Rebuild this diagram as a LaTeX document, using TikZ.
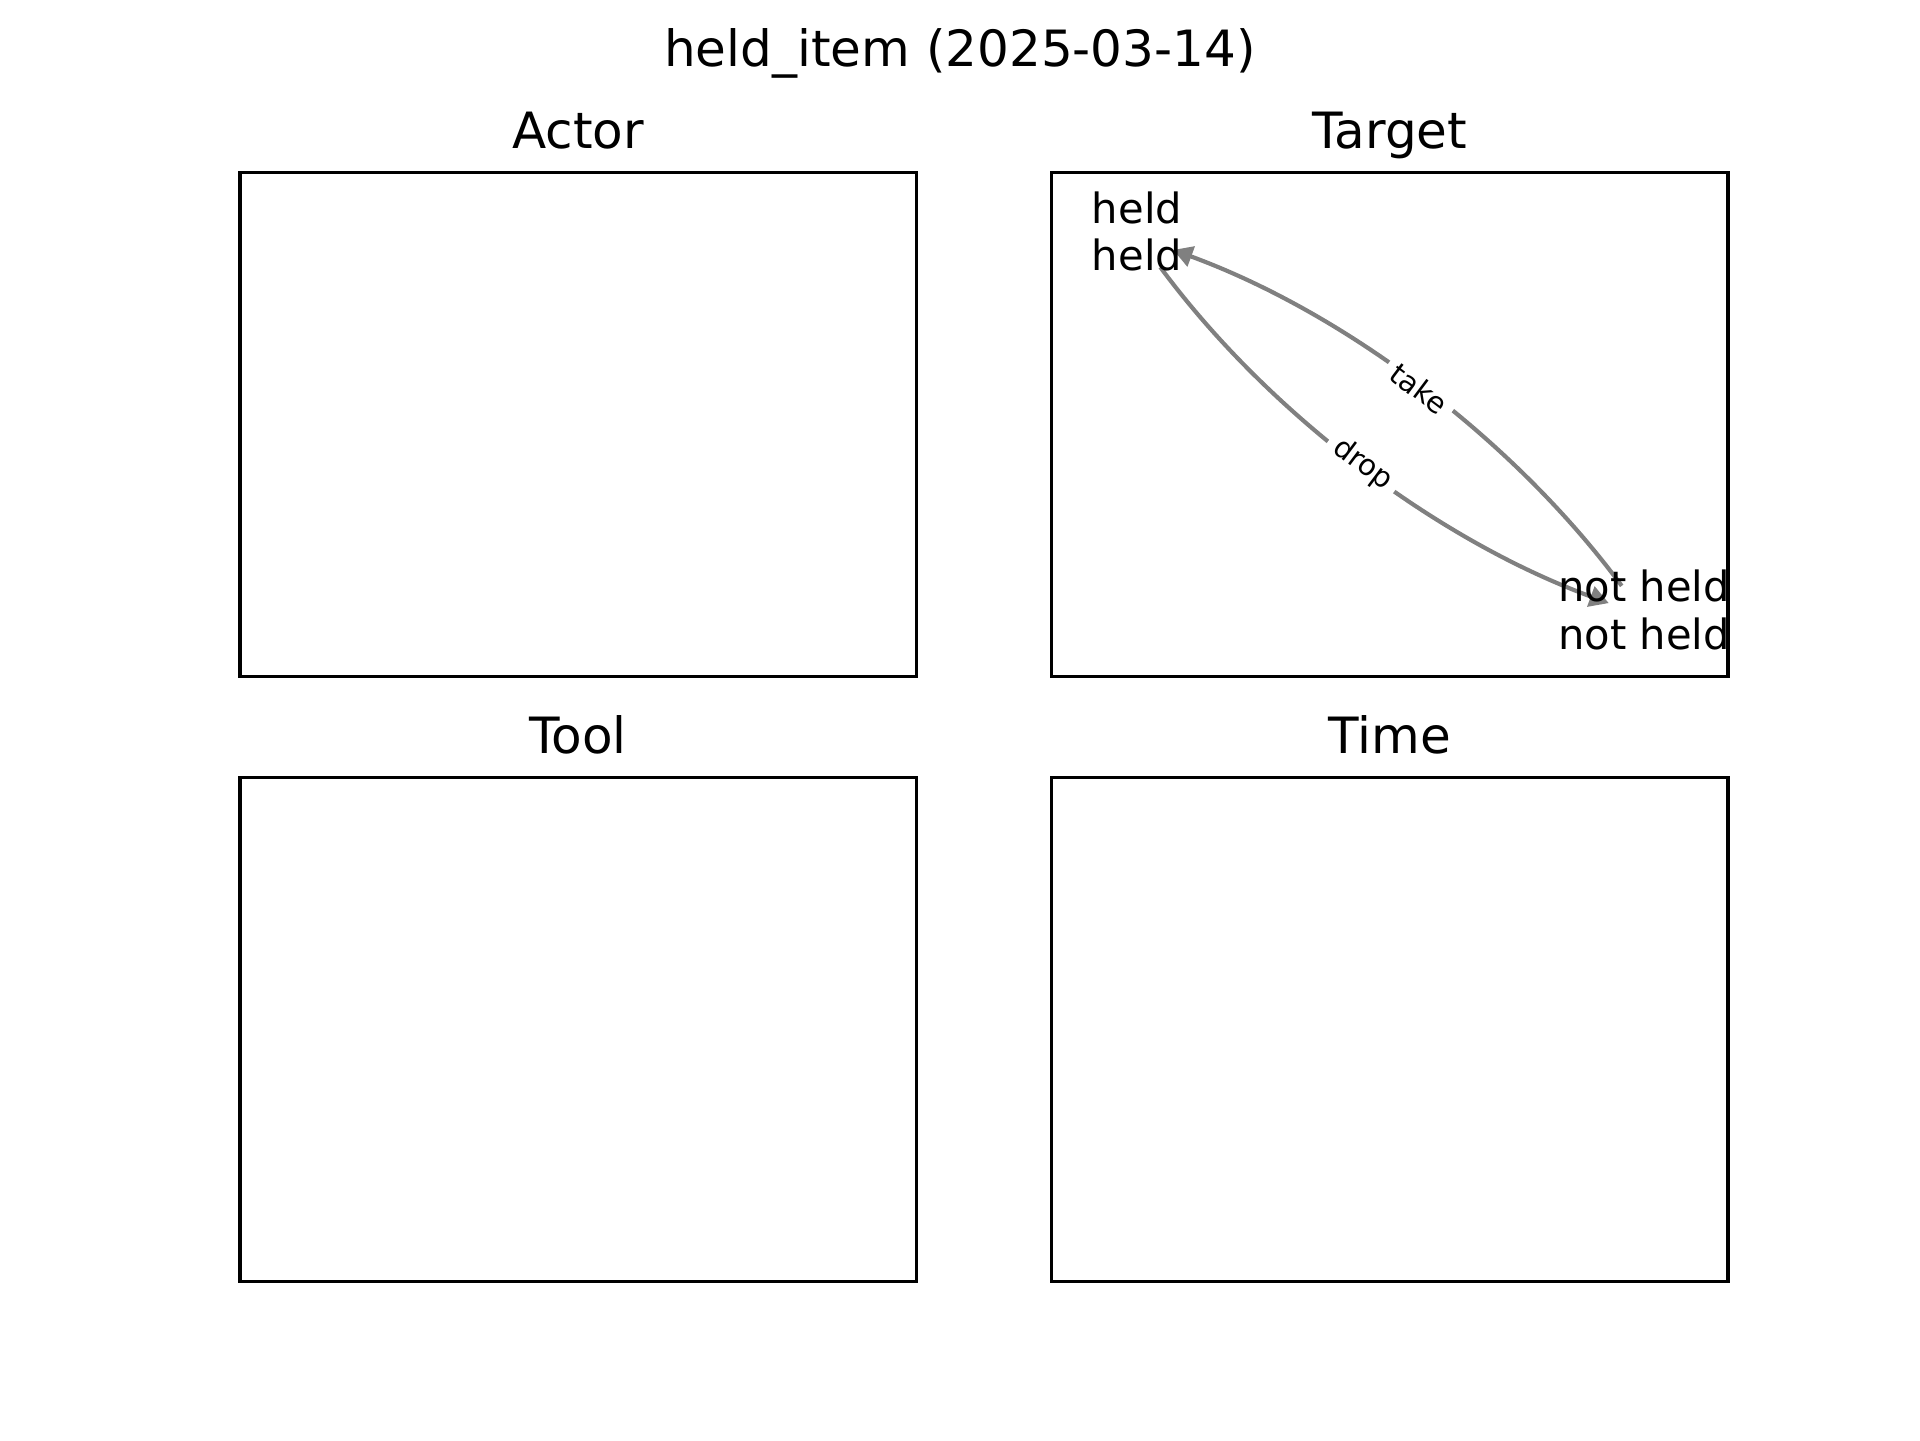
\documentclass[tikz,border=0pt]{standalone}
\usepackage{fontspec}
\setmainfont{DejaVu Sans}
\usetikzlibrary{arrows.meta}
\begin{document}
\begin{tikzpicture}[x=0.24pt,y=-0.24pt,
  panel/.style={draw=black,line width=0.8pt},
  ttl/.style={anchor=base,inner sep=0pt,font=\fontsize{12}{14.4}\selectfont},
  statelbl/.style={anchor=base,inner sep=0pt,font=\fontsize{10}{11.4}\selectfont},
  trans/.style={draw=gray,line width=1pt,-{Triangle[length=4.6pt,width=5pt]},shorten <=9pt,shorten >=9pt},
  elabel/.style={pos=0.5,sloped,fill=white,inner sep=2pt,rounded corners=1pt,font=\fontsize{7}{8.4}\selectfont,text=black}]
\useasboundingbox (0,0) rectangle (1920,1440);

% figure title
\node[ttl] (title) at (960,66.7) {held\_item (2025-03-14)};

% panels
\draw[panel] (240,172.8) rectangle (916.4,676.8);
\draw[panel] (1051.6,172.8) rectangle (1728,676.8);
\draw[panel] (240,777.6) rectangle (916.4,1281.6);
\draw[panel] (1051.6,777.6) rectangle (1728,1281.6);

\node[ttl] (tactor) at (578.2,148) {Actor};
\node[ttl] (ttarget) at (1389.8,148) {Target};
\node[ttl] (ttool) at (578.2,753) {Tool};
\node[ttl] (ttime) at (1389.8,753) {Time};

% state positions
\coordinate (held) at (1138,237);
\coordinate (notheld) at (1644,616);

% transitions
\draw[trans] (notheld) .. controls (1513.2,439.1) and (1344.5,312.7) .. node[elabel] (ltake) {take} (held);
\draw[trans] (held) .. controls (1268.8,413.9) and (1437.5,540.3) .. node[elabel] (ldrop) {drop} (notheld);

% state labels
\node[statelbl] (heldtxt) at (1137,223.3) {\begin{tabular}[t]{@{}c@{}}held\\held\end{tabular}};
\node[statelbl] (notheldtxt) at (1644,601.7) {\begin{tabular}[t]{@{}c@{}}not held\\not held\end{tabular}};
\end{tikzpicture}
\end{document}
